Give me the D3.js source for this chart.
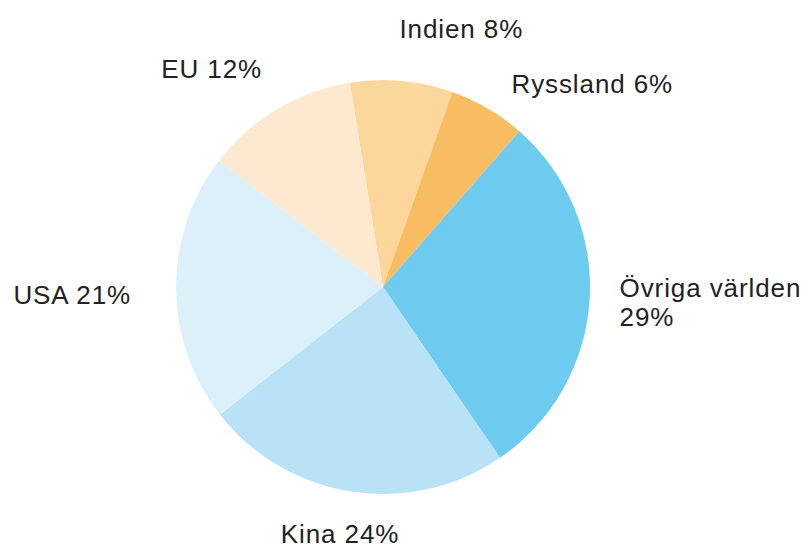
<!DOCTYPE html>
<html>
<head>
<meta charset="utf-8">
<script src="https://cdn.jsdelivr.net/npm/d3@7"></script>
<style>
  body { margin: 0; background: #fff; }
  text { font-family: "Liberation Sans", Arial, sans-serif; fill: #222; }
</style>
</head>
<body>
<div id="chart"></div>
<script>
// Andel av världens utsläpp
const labels = ['Indien', 'Ryssland', 'Övriga världen', 'Kina', 'USA', 'EU'];
const values = [8, 6, 29, 24, 21, 12];
const colors = ['#fdd69b', '#f8bd63', '#6dcbef', '#b8e2f5', '#dcf0fa', '#fde8d0'];

const width = 806;
const height = 549;
const cx = 383;
const cy = 287;
const radius = 207;
const labelR = 248;

// small hand nudges for the labels, as in the original layout
const nudge = {
  'Indien': [-6, -11],
  'Ryssland': [3, 11],
  'Övriga världen': [-11, 0],
  'Kina': [-5, 2],
  'USA': [-4, 7],
  'EU': [6, -5]
};

const svg = d3.select('#chart')
    .append('svg')
    .attr('width', width)
    .attr('height', height);

const g = svg.append('g')
    .attr('transform', 'translate(' + cx + ',' + cy + ')');

const start = -9.2 * Math.PI / 180;
const pie = d3.pie()
    .sort(null)
    .startAngle(start)
    .endAngle(start + 2 * Math.PI)
    .value(function(d, i) { return values[i]; });

const arcs = pie(labels);

const arc = d3.arc().innerRadius(0).outerRadius(radius);

g.selectAll('path')
    .data(arcs)
    .enter()
    .append('path')
    .attr('d', arc)
    .attr('fill', function(d, i) { return colors[i]; });

// labels around the pie
arcs.forEach(function(d, i) {
  const a = (d.startAngle + d.endAngle) / 2;
  const x = labelR * Math.sin(a) + nudge[labels[i]][0];
  const y = -labelR * Math.cos(a) + nudge[labels[i]][1];
  let anchor = x >= 0 ? 'start' : 'end';
  if (Math.cos(a) < -0.9) anchor = 'middle';
  const t = g.append('text')
      .attr('x', x)
      .attr('y', y)
      .attr('text-anchor', anchor)
      .style('font-size', '26px')
      .style('letter-spacing', '0.9px');
  if (labels[i] === 'Övriga världen') {
    t.append('tspan').attr('x', x).attr('dy', '-0.19em').text(labels[i]);
    t.append('tspan').attr('x', x).attr('dy', '1.12em').text(values[i] + '%');
  } else {
    t.attr('dy', '0.35em').text(labels[i] + ' ' + values[i] + '%');
  }
});
</script>
</body>
</html>
